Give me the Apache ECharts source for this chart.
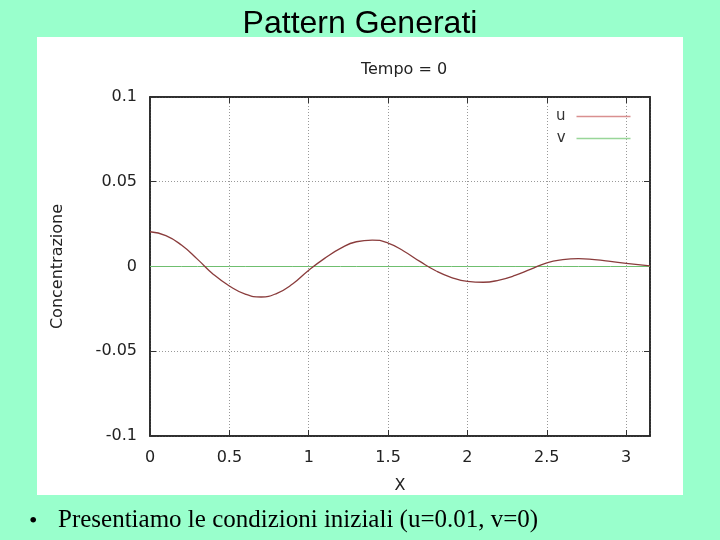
<!DOCTYPE html>
<html>
<head>
<meta charset="utf-8">
<script src="https://cdn.jsdelivr.net/npm/echarts@6/dist/echarts.min.js"></script>
<style>
html,body{margin:0;padding:0;background:#99FFCC;}
#main{width:720px;height:540px;}
</style>
</head>
<body>
<div id="main"></div>
<script>
var slideTitle = 'Pattern Generati';
var plotTitle = 'Tempo = 0';
var bulletText = 'Presentiamo le condizioni iniziali (u=0.01, v=0)';
var xName = 'X';
var yName = 'Concentrazione';
var seriesNames = ['u', 'v'];
var xValues = [0, 0.1, 0.2, 0.3, 0.4, 0.5, 0.6, 0.7, 0.8, 0.9, 1.0, 1.1, 1.2, 1.3, 1.4, 1.5, 1.6, 1.7, 1.8, 1.9, 2.0, 2.1, 2.2, 2.3, 2.4, 2.5, 2.6, 2.7, 2.8, 2.9, 3.0, 3.15];
var uValues = [0.0205, 0.0182, 0.0125, 0.0042, -0.0047, -0.0115, -0.0163, -0.018, -0.0158, -0.0102, -0.0022, 0.0048, 0.0107, 0.0146, 0.0156, 0.0138, 0.009, 0.003, -0.0025, -0.0065, -0.0088, -0.0093, -0.008, -0.0053, -0.0015, 0.0022, 0.004, 0.0046, 0.004, 0.003, 0.0018, 0.0004];
var vValues = [0, 0, 0, 0, 0, 0, 0, 0, 0, 0, 0, 0, 0, 0, 0, 0, 0, 0, 0, 0, 0, 0, 0, 0, 0, 0, 0, 0, 0, 0, 0, 0];
var xTicks = [0, 0.5, 1, 1.5, 2, 2.5, 3];
var yTicks = [-0.1, -0.05, 0, 0.05, 0.1];

function pairs(xs, ys) { return xs.map(function (x, i) { return [x, ys[i]]; }); }

var chart = echarts.init(document.getElementById('main'), null, {renderer: 'canvas'});
var font = 'DejaVu Sans';
var gridLine = {show: true, lineStyle: {color: '#999999', type: [1, 2], width: 1}};
var option = {
  backgroundColor: '#99FFCC',
  animation: false,
  graphic: [
    {type: 'rect', z: -10, shape: {x: 37, y: 37, width: 646, height: 458}, style: {fill: '#ffffff'}},
    {type: 'text', left: 'center', top: 8, style: {text: slideTitle, font: '32px "Liberation Sans"', fill: '#000'}},
    {type: 'text', left: 29, top: 510, style: {text: '\u2022', font: '24px "Liberation Serif"', fill: '#000'}},
    {type: 'text', left: 58, top: 508, style: {text: bulletText, font: '25px "Liberation Serif"', fill: '#000'}}
  ],
  title: {text: plotTitle, left: 399, textAlign: 'center', top: 57, textStyle: {fontFamily: font, fontSize: 16, fontWeight: 'normal', color: '#222'}},
  legend: {
    orient: 'vertical', left: 551, top: 104, align: 'right', itemGap: 7,
    itemWidth: 54, itemHeight: 1.5,
    textStyle: {fontFamily: font, fontSize: 15, color: '#333', padding: [0, 6, 0, 0]},
    data: [
      {name: seriesNames[0], icon: 'rect', itemStyle: {color: '#d99090'}},
      {name: seriesNames[1], icon: 'rect', itemStyle: {color: '#99d699'}}
    ]
  },
  grid: {left: 150, top: 97, width: 500, height: 339, show: true, borderColor: '#222', borderWidth: 1.5, backgroundColor: 'transparent'},
  xAxis: [{
    type: 'value', min: 0, max: 3.15, interval: 0.5,
    name: xName, nameLocation: 'middle', nameGap: 42,
    nameTextStyle: {fontFamily: font, fontSize: 16, color: '#222'},
    axisLine: {show: true, onZero: false, lineStyle: {color: '#222', width: 1.5}},
    axisTick: {show: true, inside: true, length: 6, lineStyle: {color: '#333'}},
    axisLabel: {fontFamily: font, fontSize: 16, color: '#222', margin: 14, showMaxLabel: false,
      formatter: function (v) { return xTicks.indexOf(+v.toFixed(2)) >= 0 ? String(+v.toFixed(2)) : ''; }},
    splitLine: gridLine
  }, {
    type: 'value', min: 0, max: 3.15, interval: 0.5, position: 'top',
    axisLine: {show: true, onZero: false, lineStyle: {color: '#222', width: 1.5}},
    axisTick: {show: true, inside: true, length: 6, lineStyle: {color: '#333'}},
    axisLabel: {show: false}, splitLine: {show: false}
  }],
  yAxis: [{
    type: 'value', min: -0.1, max: 0.1, interval: 0.05,
    name: yName, nameLocation: 'middle', nameGap: 84, nameRotate: 90,
    nameTextStyle: {fontFamily: font, fontSize: 16, color: '#222'},
    axisLine: {show: true, onZero: false, lineStyle: {color: '#222', width: 1.5}},
    axisTick: {show: true, inside: true, length: 6, lineStyle: {color: '#333'}},
    axisLabel: {fontFamily: font, fontSize: 16, color: '#222', margin: 13,
      formatter: function (v) { var r = +v.toFixed(3); return yTicks.indexOf(r) >= 0 ? String(r) : ''; }},
    splitLine: gridLine
  }, {
    type: 'value', min: -0.1, max: 0.1, interval: 0.05, position: 'right',
    axisLine: {show: true, onZero: false, lineStyle: {color: '#222', width: 1.5}},
    axisTick: {show: true, inside: true, length: 6, lineStyle: {color: '#333'}},
    axisLabel: {show: false}, splitLine: {show: false}
  }],
  series: [
    {name: seriesNames[0], type: 'line', smooth: true, showSymbol: false, symbol: 'none', data: pairs(xValues, uValues),
      lineStyle: {color: '#8a3c3c', width: 1.3}, itemStyle: {color: '#8a3c3c'}, z: 3},
    {name: seriesNames[1], type: 'line', showSymbol: false, symbol: 'none', data: pairs(xValues, vValues),
      lineStyle: {color: '#6fbf6f', width: 1}, itemStyle: {color: '#6fbf6f'}, z: 2}
  ]
};
chart.setOption(option);
</script>
</body>
</html>
